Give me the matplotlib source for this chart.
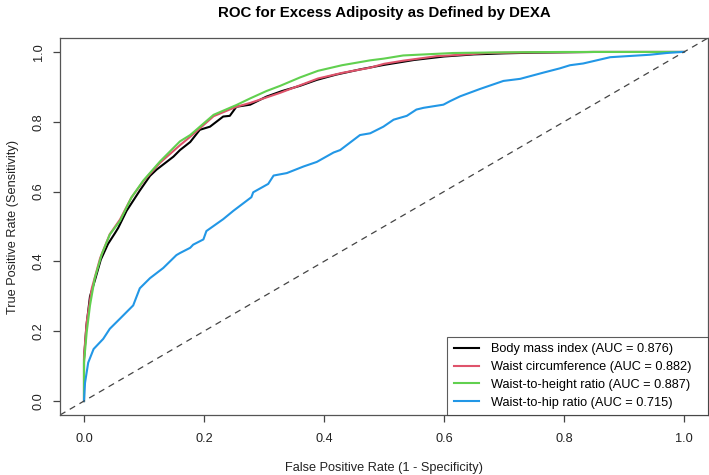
import matplotlib
matplotlib.use("Agg")
import matplotlib.pyplot as plt

plt.rcParams["font.family"] = ["Liberation Sans", "DejaVu Sans"]

# ---- data (FPR, TPR) ----
bmi_fpr = [0.0, 0.0, 0.004, 0.01, 0.018, 0.028, 0.040, 0.052, 0.057, 0.071, 0.082,
           0.093, 0.110, 0.121, 0.149, 0.160, 0.177, 0.193, 0.210, 0.232, 0.243,
           0.254, 0.277, 0.304, 0.330, 0.360, 0.388, 0.420, 0.460, 0.500, 0.550,
           0.600, 0.650, 0.700, 0.750, 0.800, 0.850, 1.0]
bmi_tpr = [0.0, 0.12, 0.215, 0.30, 0.345, 0.405, 0.450, 0.482, 0.496, 0.545, 0.574,
           0.603, 0.645, 0.663, 0.700, 0.719, 0.742, 0.777, 0.786, 0.815, 0.817,
           0.843, 0.849, 0.872, 0.888, 0.903, 0.920, 0.935, 0.950, 0.963, 0.977,
           0.987, 0.993, 0.996, 0.998, 0.999, 1.0, 1.0]

wc_fpr = [0.0, 0.0, 0.0045, 0.013, 0.027, 0.043, 0.060, 0.079, 0.099, 0.127, 0.160,
          0.177, 0.216, 0.254, 0.277, 0.327, 0.390, 0.430, 0.477, 0.500, 0.532,
          0.588, 0.610, 0.672, 0.750, 0.850, 1.0]
wc_tpr = [0.0, 0.13, 0.226, 0.323, 0.410, 0.478, 0.520, 0.583, 0.630, 0.683, 0.733,
          0.757, 0.816, 0.843, 0.854, 0.883, 0.924, 0.940, 0.955, 0.966, 0.975,
          0.988, 0.990, 0.997, 0.999, 1.0, 1.0]

wht_fpr = [0.0, 0.0, 0.0045, 0.010, 0.018, 0.0295, 0.043, 0.060, 0.079, 0.099, 0.127,
           0.160, 0.177, 0.216, 0.254, 0.277, 0.304, 0.327, 0.360, 0.390, 0.430,
           0.477, 0.500, 0.532, 0.615, 0.700, 0.800, 1.0]
wht_tpr = [0.0, 0.11, 0.197, 0.274, 0.352, 0.420, 0.477, 0.516, 0.583, 0.632, 0.687,
           0.744, 0.762, 0.820, 0.848, 0.867, 0.888, 0.903, 0.927, 0.946, 0.962,
           0.976, 0.981, 0.990, 0.997, 0.999, 1.0, 1.0]

whr_fpr = [0.0, 0.0017, 0.007, 0.016, 0.032, 0.043, 0.060, 0.082, 0.093, 0.110,
           0.132, 0.154, 0.160, 0.177, 0.182, 0.199, 0.204, 0.232, 0.249, 0.279,
           0.282, 0.307, 0.316, 0.338, 0.366, 0.388, 0.416, 0.427, 0.460, 0.477,
           0.499, 0.516, 0.538, 0.554, 0.566, 0.599, 0.610, 0.627, 0.660, 0.699,
           0.727, 0.766, 0.793, 0.810, 0.832, 0.877, 0.943, 0.971, 0.996, 1.0]
whr_tpr = [0.0, 0.052, 0.110, 0.149, 0.178, 0.207, 0.236, 0.274, 0.323, 0.352,
           0.381, 0.418, 0.424, 0.439, 0.448, 0.463, 0.487, 0.521, 0.545, 0.584,
           0.598, 0.622, 0.646, 0.653, 0.672, 0.685, 0.712, 0.719, 0.762, 0.767,
           0.786, 0.806, 0.817, 0.835, 0.840, 0.849, 0.859, 0.873, 0.894, 0.917,
           0.923, 0.941, 0.953, 0.962, 0.967, 0.985, 0.992, 0.997, 1.0, 1.0]

labels = ["Body mass index (AUC = 0.876)",
          "Waist circumference (AUC = 0.882)",
          "Waist-to-height ratio (AUC = 0.887)",
          "Waist-to-hip ratio (AUC = 0.715)"]
colors = ["black", "#DF536B", "#61D04F", "#2297E6"]
ticks = [0.0, 0.2, 0.4, 0.6, 0.8, 1.0]

# ---- figure ----
fig = plt.figure(figsize=(7.09, 4.75), dpi=100)
ax = fig.add_axes([60 / 709, 60 / 475, 648 / 709, 377 / 475])

curves = [(bmi_fpr, bmi_tpr), (wc_fpr, wc_tpr), (wht_fpr, wht_tpr), (whr_fpr, whr_tpr)]
for (fx, ty), c, lab in zip(curves, colors, labels):
    # trailing spaces mimic R's wider right padding inside the legend box
    ax.plot(fx, ty, color=c, lw=1.5, label=lab + "   ")

ax.axline((0, 0), (1, 1), color="#444444", lw=0.9, ls=(0, (5, 4)))

ax.set_xlim(-0.04, 1.04)
ax.set_ylim(-0.04, 1.04)
ax.set_xticks(ticks)
ax.set_yticks(ticks)
ax.set_xticklabels([f"{t:.1f}" for t in ticks])
ax.set_yticklabels([f"{t:.1f}" for t in ticks], rotation=90, va="center")
ax.tick_params(axis="both", length=5, width=0.9, color="#444444", labelsize=9.2,
               labelcolor="#222222")
ax.tick_params(axis="x", pad=8)
ax.tick_params(axis="y", pad=6)
for s in ax.spines.values():
    s.set_color("#555555")
    s.set_linewidth(0.9)

ax.set_title("ROC for Excess Adiposity as Defined by DEXA", fontsize=10.8,
             fontweight="bold", pad=15)
ax.set_xlabel("False Positive Rate (1 - Specificity)", fontsize=9.2, labelpad=12,
              color="#222222")
ax.set_ylabel("True Positive Rate (Sensitivity)", fontsize=9.2, labelpad=10,
              color="#222222")

leg = ax.legend(loc="lower right", fontsize=9.2, frameon=True, fancybox=False,
                borderaxespad=0, handlelength=2.0, handletextpad=0.9,
                labelspacing=0.45, borderpad=0.5)
leg.get_frame().set_edgecolor("#333333")
leg.get_frame().set_linewidth(0.8)

fig.savefig("out.png", dpi=100)
